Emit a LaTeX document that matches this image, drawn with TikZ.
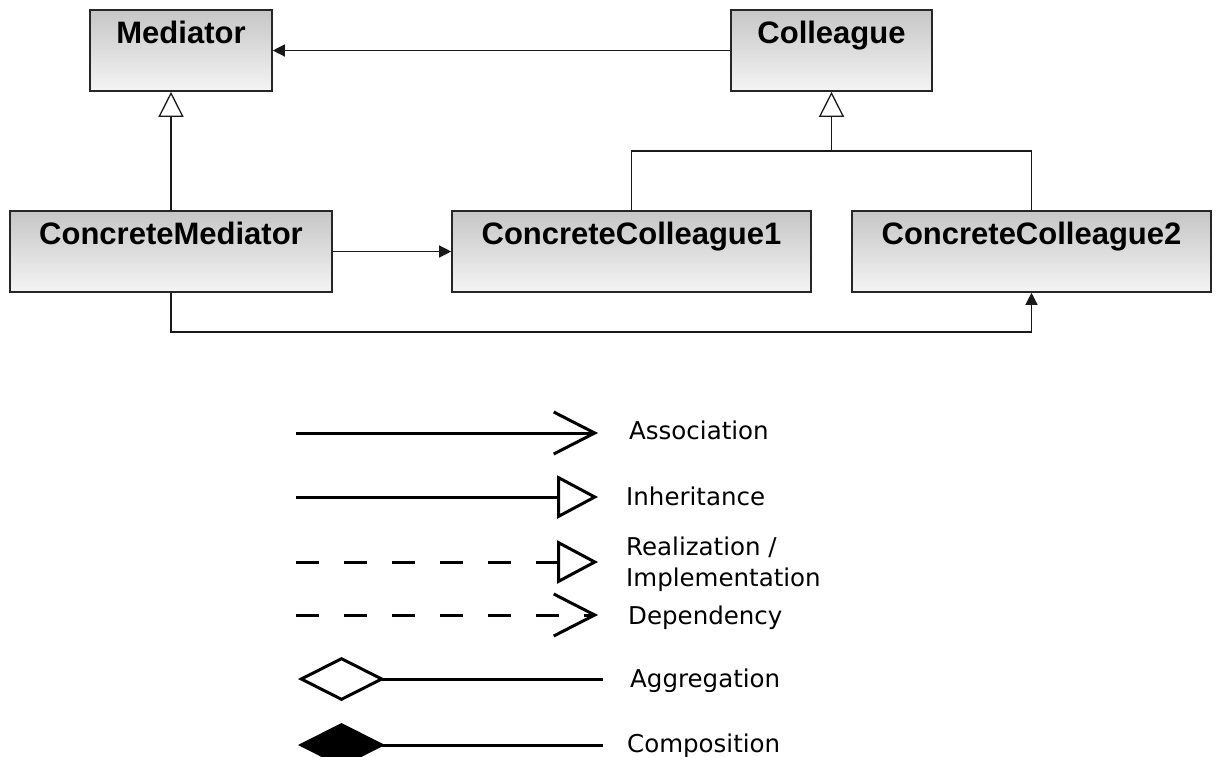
\documentclass[tikz,border=0pt]{standalone}
\usepackage{fontspec}
\setmainfont{DejaVu Sans}
\newfontfamily\boxfont{Liberation Sans}
\usetikzlibrary{arrows.meta}
\definecolor{topg}{RGB}{198,198,198}
\definecolor{botg}{RGB}{244,244,244}
\begin{document}
\begin{tikzpicture}[x=1pt,y=-1pt,
 umlbox/.style={draw=black!85, line width=1.6pt, top color=topg, bottom color=botg, minimum height=81pt, inner sep=0pt},
 boxlabel/.style={anchor=base, inner sep=0pt, font=\boxfont\bfseries\fontsize{31}{37}\selectfont},
 conn/.style={line width=1.3pt, draw=black!90},
 filledtip/.style={-{Triangle[length=12pt,width=12pt]}},
 inhtip/.style={-{Triangle[open,fill=white,length=25pt,width=25pt]}},
 legline/.style={line width=3pt},
 legtext/.style={anchor=base west, inner sep=0pt, font=\fontsize{24.5}{31}\selectfont},
 legdash/.style={dash pattern=on 23pt off 25pt},
]
\useasboundingbox (0,0) rectangle (1216,756);

% boxes
\node[umlbox, minimum width=182pt] (med) at (181,50.5) {};
\node[boxlabel] (medl) at ([yshift=-34pt]med.north) {Mediator};
\node[umlbox, minimum width=201pt] (col) at (831.5,50.5) {};
\node[boxlabel] (coll) at ([yshift=-34pt]col.north) {Colleague};
\node[umlbox, minimum width=322pt] (cm) at (171,251.5) {};
\node[boxlabel] (cml) at ([yshift=-34pt]cm.north) {ConcreteMediator};
\node[umlbox, minimum width=359pt] (cc1) at (631.5,251.5) {};
\node[boxlabel] (cc1l) at ([yshift=-34pt]cc1.north) {ConcreteColleague1};
\node[umlbox, minimum width=359pt] (cc2) at (1031.5,251.5) {};
\node[boxlabel] (cc2l) at ([yshift=-34pt]cc2.north) {ConcreteColleague2};

% connectors
\draw[conn, filledtip] (col.west) -- (med.east);
\draw[conn, inhtip] (cm.north) -- (cm.north |- med.south);
\coordinate (bus) at (831.5,151);
\draw[conn] (cc1.north) |- (bus) -| (cc2.north);
\draw[conn, inhtip] (bus) -- (col.south);
\draw[conn, filledtip] (cm.east) -- (cc1.west);
\coordinate (low) at (0,332);
\draw[conn, filledtip] (cm.south) -- (cm.south |- low) -| (cc2.south);

% legend
\coordinate (a1) at (296,433); \coordinate (a2) at (598,433);
\draw[legline, -{Straight Barb[length=41pt,width=42pt]}] (a1) -- (a2);
\node[legtext] (t1) at (629,439) {Association};

\coordinate (i1) at (296,497); \coordinate (i2) at (598,497);
\draw[legline, -{Triangle[open,fill=white,length=41pt,width=43pt]}] (i1) -- (i2);
\node[legtext] (t2) at (626,505) {Inheritance};

\coordinate (r1) at (296,562); \coordinate (r2) at (598,562);
\draw[legline, legdash, -{Triangle[open,fill=white,length=41pt,width=43pt]}] (r1) -- (r2);
\node[legtext, align=left, anchor=west] (t3) at (626,564) {Realization /\\Implementation};

\coordinate (d1) at (296,615); \coordinate (d2) at (598,615);
\draw[legline, legdash, -{Straight Barb[length=41pt,width=42pt]}] (d1) -- (d2);
\node[legtext] (t4) at (628,624) {Dependency};

\coordinate (g1) at (298,679); \coordinate (g2) at (603,679);
\draw[legline, {Diamond[open,fill=white,length=87pt,width=44pt]}-] (g1) -- (g2);
\node[legtext] (t5) at (630,687) {Aggregation};

\coordinate (c1) at (298,745); \coordinate (c2) at (603,745);
\draw[legline, {Diamond[length=87pt,width=44pt]}-] (c1) -- (c2);
\node[legtext] (t6) at (627,752.5) {Composition};
\end{tikzpicture}
\end{document}
